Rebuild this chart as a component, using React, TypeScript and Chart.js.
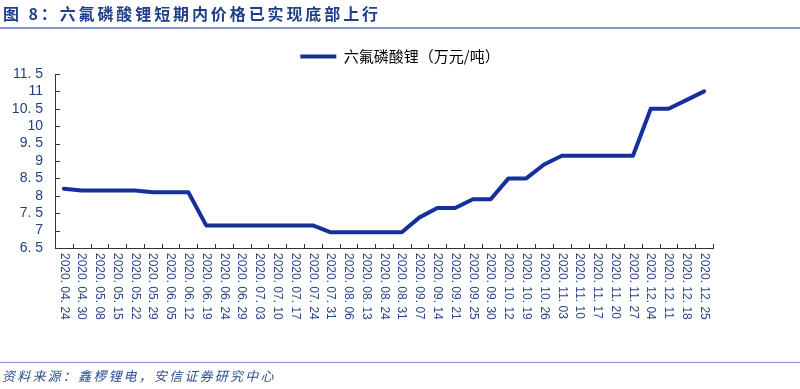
import React, { useEffect, useRef } from "react";
import { Chart, registerables } from "chart.js";

Chart.register(...registerables);

const TITLE = "图 8：六氟磷酸锂短期内价格已实现底部上行";
const SOURCE = "资料来源：鑫椤锂电，安信证券研究中心";
const SERIES_NAME = "六氟磷酸锂（万元/吨）";

const dates: string[] = [
  "2020.04.24", "2020.04.30", "2020.05.08", "2020.05.15", "2020.05.22", "2020.05.29",
  "2020.06.05", "2020.06.12", "2020.06.19", "2020.06.24", "2020.06.29", "2020.07.03",
  "2020.07.10", "2020.07.17", "2020.07.24", "2020.07.31", "2020.08.06", "2020.08.13",
  "2020.08.24", "2020.08.31", "2020.09.07", "2020.09.14", "2020.09.21", "2020.09.25",
  "2020.09.30", "2020.10.12", "2020.10.19", "2020.10.26", "2020.11.03", "2020.11.10",
  "2020.11.17", "2020.11.20", "2020.11.27", "2020.12.04", "2020.12.11", "2020.12.18",
  "2020.12.25",
];

const prices: number[] = [
  8.2, 8.15, 8.15, 8.15, 8.15, 8.1,
  8.1, 8.1, 7.15, 7.15, 7.15, 7.15,
  7.15, 7.15, 7.15, 6.95, 6.95, 6.95,
  6.95, 6.95, 7.38, 7.65, 7.65, 7.9,
  7.9, 8.5, 8.5, 8.9, 9.15, 9.15,
  9.15, 9.15, 9.15, 10.5, 10.5, 10.75,
  11.0,
];

const yMin = 6.5;
const yMax = 11.5;
const yStep = 0.5;

const LINE_COLOR = "#16309a";
const AXIS_COLOR = "#333333";
const LABEL_COLOR = "#2b4788";

const spaced = (s: string) => s.replace(/\./g, ". ");

const customAxes = {
  id: "customAxes",
  afterDraw(chart: any) {
    const { ctx, chartArea } = chart;
    const x = chart.scales.x;
    const y = chart.scales.y;
    ctx.save();
    ctx.strokeStyle = AXIS_COLOR;
    ctx.lineWidth = 1;
    y.ticks.forEach((t: any) => {
      const py = Math.round(y.getPixelForValue(t.value)) + 0.5;
      ctx.beginPath();
      ctx.moveTo(chartArea.left, py);
      ctx.lineTo(chartArea.left + 5, py);
      ctx.stroke();
    });
    const n = dates.length;
    const w = (chartArea.right - chartArea.left) / n;
    for (let k = 1; k <= n; k++) {
      const px = Math.round(chartArea.left + w * k) + 0.5;
      ctx.beginPath();
      ctx.moveTo(px, chartArea.bottom);
      ctx.lineTo(px, chartArea.bottom - 4);
      ctx.stroke();
    }
    ctx.fillStyle = LABEL_COLOR;
    ctx.font = "12px 'Liberation Sans', Arial, sans-serif";
    ctx.textAlign = "left";
    ctx.textBaseline = "middle";
    dates.forEach((d, i) => {
      const px = x.getPixelForValue(i);
      ctx.save();
      ctx.translate(px, chartArea.bottom + 5);
      ctx.rotate(Math.PI / 2);
      ctx.fillText(spaced(d), 0, 0);
      ctx.restore();
    });
    ctx.restore();
  },
};

export default function App() {
  const canvasRef = useRef<HTMLCanvasElement | null>(null);

  useEffect(() => {
    document.body.style.margin = "0";
    const canvas = canvasRef.current;
    if (!canvas) return;
    const chart = new Chart(canvas, {
      type: "line",
      data: {
        labels: dates,
        datasets: [
          {
            label: SERIES_NAME,
            data: prices,
            borderColor: LINE_COLOR,
            backgroundColor: LINE_COLOR,
            borderWidth: 4,
            pointRadius: 0,
            tension: 0,
            borderJoinStyle: "round",
            borderCapStyle: "round",
          },
        ],
      },
      options: {
        animation: false,
        responsive: false,
        devicePixelRatio: 1,
        layout: { padding: { left: 0, right: 0, top: 42, bottom: 0 } },
        plugins: {
          legend: {
            position: "top",
            align: "center",
            labels: {
              padding: 7,
              boxWidth: 36,
              boxHeight: 4,
              color: "#1f3a7a",
              font: { family: "'Noto Sans CJK SC', sans-serif", size: 15 },
              generateLabels: (chart: any) =>
                chart.data.datasets.map((ds: any, i: number) => ({
                  text: ds.label,
                  fillStyle: LINE_COLOR,
                  strokeStyle: LINE_COLOR,
                  lineWidth: 0,
                  hidden: false,
                  datasetIndex: i,
                })),
            },
          },
          tooltip: { enabled: false },
        },
        scales: {
          x: {
            type: "category",
            offset: true,
            grid: { display: false, drawTicks: false },
            border: { display: true, color: AXIS_COLOR, width: 1 },
            ticks: { display: false },
            afterFit: (s: any) => {
              s.height = 141;
            },
          },
          y: {
            min: yMin,
            max: yMax,
            position: "left",
            grid: { display: false, drawTicks: false },
            border: { display: true, color: AXIS_COLOR, width: 1 },
            ticks: {
              stepSize: yStep,
              autoSkip: false,
              padding: 12,
              color: "#243f80",
              font: { family: "'Liberation Sans', Arial, sans-serif", size: 14 },
              callback: (v: any) => spaced(String(Number(v))),
            },
            afterFit: (s: any) => {
              s.width = 55;
            },
          },
          yRight: {
            position: "right",
            display: true,
            grid: { display: false, drawTicks: false },
            border: { display: false },
            ticks: { display: false },
            afterFit: (s: any) => {
              s.width = 87;
            },
          },
        },
      },
      plugins: [customAxes],
    });
    return () => chart.destroy();
  }, []);

  return (
    <div style={{ position: "relative", width: 800, height: 389, background: "#fff", overflow: "hidden" }}>
      <canvas ref={canvasRef} width={800} height={389} style={{ position: "absolute", left: 0, top: 0 }} />
      <div
        style={{
          position: "absolute",
          left: 3,
          top: 2,
          fontFamily: "'Noto Sans CJK SC', sans-serif",
          fontWeight: 700,
          fontSize: 16,
          letterSpacing: 2.9,
          color: "#1f3f8a",
          lineHeight: "22px",
          whiteSpace: "nowrap",
        }}
      >
        {TITLE}
      </div>
      <div style={{ position: "absolute", left: 0, top: 27, width: 800, height: 2, background: "#8196cc" }} />
      <div style={{ position: "absolute", left: 0, top: 362, width: 800, height: 1, background: "#8196cc" }} />
      <div
        style={{
          position: "absolute",
          left: 2,
          top: 367,
          fontFamily: "'Noto Sans CJK SC', sans-serif",
          fontStyle: "italic",
          fontSize: 13,
          letterSpacing: 2.2,
          color: "#2f4f92",
          lineHeight: "18px",
          whiteSpace: "nowrap",
        }}
      >
        {SOURCE}
      </div>
    </div>
  );
}
